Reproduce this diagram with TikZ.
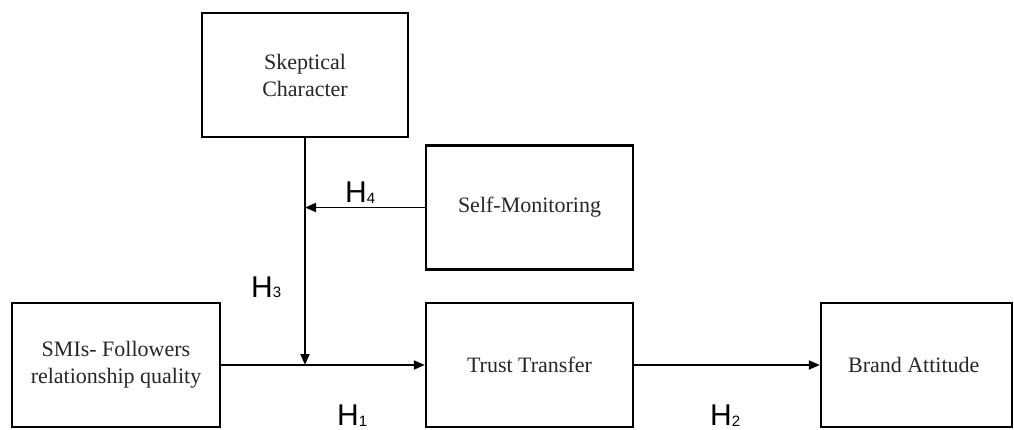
\documentclass[tikz,border=0pt]{standalone}
\usepackage{fontspec}
\setmainfont{Liberation Serif}
\newfontfamily\nhanfont{Liberation Sans}
\usetikzlibrary{arrows.meta,calc,positioning}
\def\mauvien{black}
\def\mauchu{black!85}

\begin{document}
\begin{tikzpicture}[x=1pt,y=-1pt,
	hop/.style={draw=\mauvien,line width=2.4pt,align=center,inner sep=0pt,text=\mauchu,font=\fontsize{22}{27}\selectfont},
	muiten/.style={draw=\mauvien,line width=1.8pt,-{Triangle[length=11pt,width=9pt]}},
	nhan/.style={anchor=base west,inner sep=0pt,font=\nhanfont\fontsize{30}{30}\selectfont}]
	\useasboundingbox (0,0) rectangle (1014,430);
	%%%Vẽ các hộp
	\foreach \ten/\x/\y/\w/\noidung in {%
		skep/305/75/206/{Skeptical\\Character},
		self/529.5/207.5/207/Self-Monitoring,
		smi/116/365/208/{SMIs- Followers\\relationship quality},
		trust/529.5/365/207/Trust Transfer,
		brand/916.5/365/191/Brand Attitude
		}{%
		\node[hop,minimum width=\w,minimum height=124] (\ten) at (\x,\y) {\noidung};
	}
	%%%Điểm nối trên các đường
	\coordinate (J1) at (skep.south |- smi.east);
	\coordinate (J2) at (skep.south |- self.west);
	%%%Vẽ mũi tên
	\draw[muiten] (skep.south)--(J1);
	\draw[muiten] (self.west)--(J2);
	\draw[muiten] (smi.east)--(trust.west);
	\draw[muiten] (trust.east)--(brand.west);
	%%%Nhãn giả thuyết
	\foreach \so/\x/\y in {4/345/203, 3/251/297, 1/337/425, 2/710/425}{%
		\node[nhan] (H\so) at (\x,\y) {H{\fontsize{15}{15}\selectfont\raisebox{-1pt}{\so}}};
	}
\end{tikzpicture}
\end{document}
